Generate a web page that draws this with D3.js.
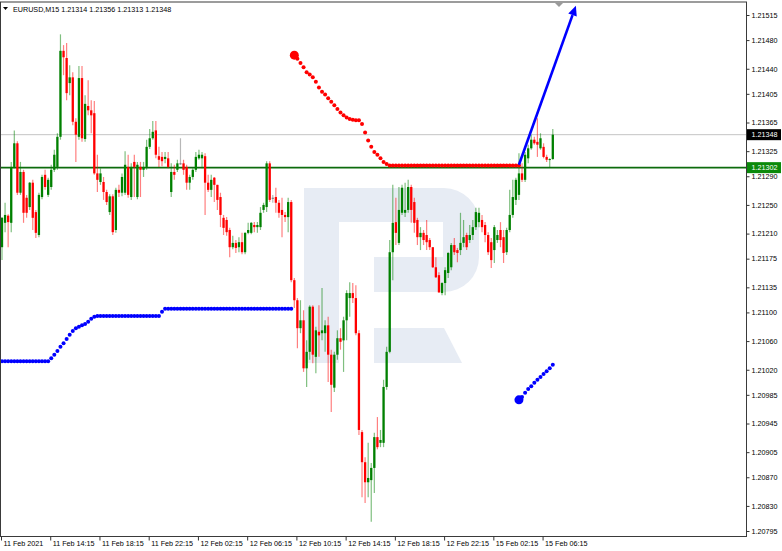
<!DOCTYPE html>
<html><head><meta charset="utf-8">
<script src="https://cdn.jsdelivr.net/npm/d3@7"></script>
<style>
body{margin:0;background:#fff}
svg{display:block}
text{font-family:"Liberation Sans",Arial,sans-serif}
</style>
</head><body><svg id="c" width="782" height="551"></svg>
<script>
// ---------- DATA ----------
const symbol = "EURUSD,M15";
const lastQuote = [1.21314, 1.21356, 1.21313, 1.21348]; // O H L C of last bar

const open = [
1.21191,1.21225,1.21235,1.21225,1.21303,1.21336,1.21267,1.21296,1.21260,1.21247,
1.21281,1.21240,1.21208,1.21261,1.21292,1.21264,1.21275,1.21299,1.21303,1.21345,
1.21465,1.21455,1.21420,1.21428,1.21366,1.21345,1.21427,1.21342,1.21388,1.21382,
1.21378,1.21294,1.21282,1.21282,1.21268,1.21240,1.21262,1.21215,1.21271,1.21267,
1.21267,1.21303,1.21261,1.21310,1.21261,1.21303,1.21299,1.21303,1.21331,1.21343,
1.21354,1.21318,1.21317,1.21314,1.21315,1.21268,1.21296,1.21299,1.21308,1.21308,
1.21303,1.21281,1.21289,1.21299,1.21315,1.21315,1.21318,1.21281,1.21271,1.21288,
1.21278,1.21261,1.21232,1.21229,1.21215,1.21191,1.21197,1.21191,1.21198,1.21184,
1.21211,1.21211,1.21222,1.21219,1.21219,1.21243,1.21247,1.21308,1.21260,1.21261,
1.21253,1.21243,1.21236,1.21233,1.21254,1.21145,1.21117,1.21078,1.21089,1.21022,
1.21045,1.21108,1.21038,1.21073,1.21071,1.21071,1.21082,1.21041,1.20995,1.21041,
1.21064,1.21061,1.21089,1.21120,1.21127,1.21120,1.21071,1.20933,1.20891,1.20863,
1.20866,1.20883,1.20926,1.20918,1.20918,1.20996,1.21045,1.21184,1.21226,1.21197,
1.21239,1.21239,1.21243,1.21275,1.21254,1.21229,1.21205,1.21211,1.21208,1.21201,
1.21191,1.21163,1.21152,1.21127,1.21141,1.21155,1.21163,1.21194,1.21187,1.21187,
1.21197,1.21208,1.21201,1.21208,1.21219,1.21226,1.21229,1.21222,1.21208,1.21198,
1.21187,1.21201,1.21215,1.21205,1.21184,1.21215,1.21236,1.21257,1.21264,1.21294,
1.21285,1.21315,1.21329,1.21341,1.21338,1.21329,1.21331,1.21317,1.21313,1.21314];

const high = [
1.21233,1.21253,1.21237,1.21310,1.21354,1.21339,1.21310,1.21299,1.21264,1.21282,
1.21285,1.21243,1.21267,1.21292,1.21299,1.21288,1.21306,1.21327,1.21350,1.21488,
1.21473,1.21476,1.21445,1.21435,1.21371,1.21444,1.21444,1.21403,1.21424,1.21396,
1.21395,1.21320,1.21301,1.21289,1.21271,1.21265,1.21265,1.21274,1.21278,1.21294,
1.21325,1.21320,1.21308,1.21320,1.21310,1.21310,1.21310,1.21341,1.21356,1.21367,
1.21367,1.21331,1.21324,1.21324,1.21324,1.21308,1.21306,1.21313,1.21343,1.21313,
1.21306,1.21292,1.21301,1.21324,1.21327,1.21324,1.21322,1.21292,1.21292,1.21289,
1.21278,1.21267,1.21236,1.21233,1.21218,1.21207,1.21201,1.21205,1.21211,1.21212,
1.21225,1.21226,1.21226,1.21226,1.21247,1.21253,1.21311,1.21311,1.21264,1.21274,
1.21257,1.21260,1.21240,1.21260,1.21257,1.21148,1.21120,1.21117,1.21103,1.21061,
1.21110,1.21110,1.21080,1.21110,1.21134,1.21089,1.21094,1.21048,1.21045,1.21075,
1.21078,1.21094,1.21131,1.21142,1.21141,1.21138,1.21075,1.20936,1.20898,1.20918,
1.20890,1.20932,1.20954,1.20936,1.21006,1.21052,1.21201,1.21278,1.21260,1.21275,
1.21278,1.21281,1.21285,1.21278,1.21260,1.21232,1.21219,1.21215,1.21229,1.21204,
1.21191,1.21177,1.21156,1.21142,1.21163,1.21184,1.21197,1.21204,1.21190,1.21239,
1.21229,1.21211,1.21222,1.21229,1.21246,1.21246,1.21236,1.21226,1.21212,1.21204,
1.21222,1.21215,1.21226,1.21215,1.21218,1.21271,1.21285,1.21288,1.21322,1.21308,
1.21324,1.21334,1.21348,1.21345,1.21371,1.21350,1.21336,1.21320,1.21315,1.21356];

const low = [
1.21173,1.21212,1.21191,1.21212,1.21301,1.21264,1.21264,1.21225,1.21232,1.21243,
1.21215,1.21204,1.21205,1.21258,1.21271,1.21261,1.21271,1.21296,1.21299,1.21341,
1.21431,1.21396,1.21403,1.21361,1.21310,1.21341,1.21338,1.21338,1.21375,1.21350,
1.21292,1.21268,1.21278,1.21257,1.21250,1.21236,1.21208,1.21211,1.21261,1.21262,
1.21264,1.21260,1.21257,1.21261,1.21258,1.21261,1.21289,1.21299,1.21328,1.21341,
1.21315,1.21303,1.21304,1.21308,1.21301,1.21261,1.21285,1.21296,1.21306,1.21292,
1.21271,1.21271,1.21285,1.21296,1.21313,1.21301,1.21236,1.21268,1.21261,1.21254,
1.21243,1.21219,1.21208,1.21207,1.21177,1.21188,1.21183,1.21184,1.21181,1.21181,
1.21209,1.21209,1.21212,1.21211,1.21215,1.21239,1.21240,1.21254,1.21253,1.21239,
1.21232,1.21205,1.21226,1.21212,1.21142,1.21106,1.21050,1.21071,1.21017,1.20996,
1.21034,1.21029,1.21015,1.21038,1.21061,1.21045,1.21003,1.20961,1.20989,1.21034,
1.21048,1.21017,1.21061,1.21094,1.21113,1.21068,1.20929,1.20842,1.20834,1.20842,
1.20808,1.20848,1.20909,1.20912,1.20912,1.20992,1.21043,1.21145,1.21194,1.21194,
1.21236,1.21233,1.21239,1.21225,1.21211,1.21194,1.21187,1.21194,1.21187,1.21187,
1.21162,1.21148,1.21127,1.21124,1.21124,1.21148,1.21159,1.21180,1.21170,1.21180,
1.21191,1.21187,1.21197,1.21201,1.21215,1.21219,1.21212,1.21198,1.21180,1.21162,
1.21169,1.21197,1.21191,1.21169,1.21180,1.21212,1.21232,1.21250,1.21257,1.21282,
1.21282,1.21308,1.21327,1.21334,1.21317,1.21327,1.21315,1.21310,1.21303,1.21313];

const close = [
1.21232,1.21236,1.21226,1.21303,1.21336,1.21267,1.21296,1.21239,1.21239,1.21281,
1.21232,1.21211,1.21264,1.21289,1.21275,1.21285,1.21299,1.21320,1.21345,1.21465,
1.21456,1.21406,1.21428,1.21366,1.21348,1.21427,1.21343,1.21391,1.21382,1.21375,
1.21294,1.21285,1.21294,1.21268,1.21254,1.21262,1.21212,1.21271,1.21267,1.21289,
1.21306,1.21264,1.21303,1.21303,1.21306,1.21299,1.21303,1.21331,1.21343,1.21352,
1.21320,1.21313,1.21311,1.21317,1.21303,1.21296,1.21292,1.21308,1.21308,1.21299,
1.21281,1.21289,1.21299,1.21317,1.21320,1.21320,1.21281,1.21271,1.21285,1.21278,
1.21257,1.21236,1.21218,1.21212,1.21191,1.21197,1.21190,1.21198,1.21184,1.21211,
1.21215,1.21225,1.21219,1.21222,1.21239,1.21250,1.21308,1.21257,1.21260,1.21253,
1.21239,1.21236,1.21233,1.21254,1.21145,1.21117,1.21078,1.21089,1.21022,1.21045,
1.21108,1.21041,1.21075,1.21068,1.21075,1.21082,1.21041,1.20999,1.21041,1.21064,
1.21059,1.21089,1.21127,1.21127,1.21120,1.21071,1.20936,1.20891,1.20863,1.20869,
1.20883,1.20926,1.20912,1.20922,1.20996,1.21045,1.21184,1.21225,1.21211,1.21243,
1.21274,1.21243,1.21275,1.21243,1.21225,1.21205,1.21211,1.21201,1.21198,1.21191,
1.21163,1.21149,1.21128,1.21141,1.21159,1.21183,1.21194,1.21184,1.21183,1.21197,
1.21205,1.21191,1.21208,1.21219,1.21240,1.21239,1.21219,1.21208,1.21184,1.21173,
1.21219,1.21208,1.21201,1.21183,1.21215,1.21236,1.21261,1.21285,1.21294,1.21285,
1.21320,1.21329,1.21341,1.21336,1.21334,1.21343,1.21317,1.21313,1.21314,1.21348];

const timeLabels = ["11 Feb 2021","11 Feb 14:15","11 Feb 18:15","11 Feb 22:15","12 Feb 02:15",
  "12 Feb 06:15","12 Feb 10:15","12 Feb 14:15","12 Feb 18:15","12 Feb 22:15","15 Feb 02:15","15 Feb 06:15"];
const timeLabelBars = [0,16,32,48,64,80,96,112,128,144,160,176];

const priceTicks = [1.21515,1.21480,1.21440,1.21405,1.21365,1.21325,1.21290,1.21250,1.21210,1.21175,
  1.21135,1.21100,1.21060,1.21020,1.20985,1.20945,1.20905,1.20870,1.20830,1.20795];

const bidPrice = 1.21348;
const levelPrice = 1.21302;

// red dotted indicator, starting at bar 95
const redDotsStart = 95;
const redDots = [
1.21459,1.21454,1.21448,1.21442,1.21435,1.21432,1.21428,1.21422,1.21414,1.21408,
1.21404,1.21399,1.21394,1.21389,1.21384,1.21379,1.21375,1.21372,1.21370,1.21369,
1.21368,1.21368,1.21363,1.21351,1.21340,1.21331,1.21324,1.21320,1.21315,1.21310,
1.21307,
1.21305,1.21305,1.21305,1.21305,1.21305,1.21305,1.21305,1.21305,1.21305,1.21305,
1.21305,1.21305,1.21305,1.21305,1.21305,1.21305,1.21305,1.21305,1.21305,1.21305,
1.21305,1.21305,1.21305,1.21305,1.21305,1.21305,1.21305,1.21305,1.21305,1.21305,
1.21305,1.21305,1.21305,1.21305,1.21305,1.21305,1.21305,1.21305,1.21305,1.21305,
1.21305,1.21305,1.21305];

// blue dotted indicator, first run starting at bar 0
const blueDotsAStart = 0;
const blueDotsA = [
1.21032,1.21032,1.21032,1.21032,1.21032,1.21032,1.21032,1.21032,1.21032,1.21032,
1.21032,1.21032,1.21032,1.21032,1.21032,1.21032,
1.21036,1.21041,1.21046,1.21052,1.21057,1.21063,1.21069,1.21074,1.21078,1.21080,
1.21082,1.21084,1.21087,1.21091,1.21094,
1.21095,1.21095,1.21095,1.21095,1.21095,1.21095,1.21095,1.21095,1.21095,1.21095,
1.21095,1.21095,1.21095,1.21095,1.21095,1.21095,1.21095,1.21095,1.21095,1.21095,
1.21095,
1.21101,
1.21105,1.21105,1.21105,1.21105,1.21105,1.21105,1.21105,1.21105,1.21105,1.21105,
1.21105,1.21105,1.21105,1.21105,1.21105,1.21105,1.21105,1.21105,1.21105,1.21105,
1.21105,1.21105,1.21105,1.21105,1.21105,1.21105,1.21105,1.21105,1.21105,1.21105,
1.21105,1.21105,1.21105,1.21105,1.21105,1.21105,1.21105,1.21105,1.21105,1.21105,
1.21105,1.21105];

// blue dotted indicator, second run starting at bar 168
const blueDotsBStart = 168;
const blueDotsB = [1.20978,1.20982,1.20988,1.20993,1.20997,1.21002,1.21006,1.21010,1.21014,1.21018,1.21022,1.21027];

// forecast arrow [bar, price]
const arrowFrom = [168, 1.21306];
const arrowTo = [186.5, 1.21528];

// ---------- CHART ----------
const svg = d3.select("#c");
const plot = {left: 0.5, top: 2, right: 746.5, bottom: 536.5};

const x = d3.scaleLinear().domain([0, 179]).range([2, 552.8]);
const y = d3.scaleLinear().domain([1.20795, 1.21515]).range([531, 15]);

svg.append("rect").attr("width", 782).attr("height", 551).attr("fill", "#fff");

// watermark logo
const wm = svg.append("g").attr("fill", "#e7ecf4");
wm.append("path").attr("d",
  "M304,188 H444 A35,35 0 0 1 479,223 V257 A35,35 0 0 1 444,292 H374 V257 H443 V222 H339 V363 H304 Z");
wm.append("path").attr("d", "M374,328 H444 L462,363 H374 Z");

// horizontal lines
svg.append("line").attr("x1", plot.left).attr("x2", plot.right)
  .attr("y1", y(bidPrice)).attr("y2", y(bidPrice))
  .attr("stroke", "#c4c4c4").attr("stroke-width", 1);
svg.append("line").attr("x1", plot.left).attr("x2", plot.right)
  .attr("y1", y(levelPrice)).attr("y2", y(levelPrice))
  .attr("stroke", "#0c6b0c").attr("stroke-width", 1.8);

// candles
const bars = d3.range(open.length).map(i => ({i, o: open[i], h: high[i], l: low[i], c: close[i]}));
const colorOf = d => d.c > d.o ? "#008000" : (d.c < d.o ? "#ff0000" : "#707070");
const cg = svg.append("g");
cg.selectAll("line.w").data(bars).join("line")
  .attr("x1", d => x(d.i)).attr("x2", d => x(d.i))
  .attr("y1", d => y(d.h)).attr("y2", d => y(d.l))
  .attr("stroke", colorOf).attr("stroke-width", 1.2).attr("stroke-opacity", 0.5);
cg.selectAll("rect.b").data(bars).join("rect")
  .attr("x", d => x(d.i) - 1.15).attr("width", 2.3)
  .attr("y", d => y(Math.max(d.o, d.c)))
  .attr("height", d => Math.max(1, Math.abs(y(d.o) - y(d.c))))
  .attr("fill", colorOf);

// red dots
const rd = redDots.map((v, k) => ({i: redDotsStart + k, v}));
svg.append("g").selectAll("circle").data(rd).join("circle")
  .attr("cx", d => x(d.i)).attr("cy", d => y(d.v))
  .attr("r", (d, k) => k === 0 ? 4.5 : 2).attr("fill", "#ff0000");

// blue dots
const bdA = blueDotsA.map((v, k) => ({i: blueDotsAStart + k, v}));
const bdB = blueDotsB.map((v, k) => ({i: blueDotsBStart + k, v, first: k === 0}));
svg.append("g").selectAll("circle").data(bdA.concat(bdB)).join("circle")
  .attr("cx", d => x(d.i)).attr("cy", d => y(d.v))
  .attr("r", d => d.first ? 4.5 : 2).attr("fill", "#0000ff");

// arrow
{
  const x1 = x(arrowFrom[0]), y1 = y(arrowFrom[1]), x2 = x(arrowTo[0]), y2 = y(arrowTo[1]);
  const ang = Math.atan2(y2 - y1, x2 - x1), hl = 10, hw = 4.5;
  const bx = x2 - hl * Math.cos(ang), by = y2 - hl * Math.sin(ang);
  svg.append("line").attr("x1", x1).attr("y1", y1).attr("x2", bx).attr("y2", by)
    .attr("stroke", "#0000ff").attr("stroke-width", 2.6);
  const px = -Math.sin(ang), py = Math.cos(ang);
  svg.append("path").attr("d",
    `M${x2},${y2} L${bx + px * hw},${by + py * hw} L${bx - px * hw},${by - py * hw} Z`)
    .attr("fill", "#0000ff");
}

// frame
svg.append("rect").attr("x", plot.left).attr("y", plot.top)
  .attr("width", plot.right - plot.left).attr("height", plot.bottom - plot.top)
  .attr("fill", "none").attr("stroke", "#3a3a3a").attr("stroke-width", 1);

// shift marker
svg.append("path").attr("d", "M555,3 L563,3 L559,7 Z").attr("fill", "#9a9a9a");

// price axis
const yAxis = d3.axisRight(y).tickValues(priceTicks).tickFormat(d3.format(".5f"))
  .tickSize(3).tickPadding(2);
const ya = svg.append("g").attr("transform", `translate(${plot.right},0)`).call(yAxis);
ya.select(".domain").remove();
ya.selectAll("line").attr("stroke", "#333");
ya.selectAll("text").attr("font-size", 7.2).attr("fill", "#000")
  .attr("font-family", "'Liberation Sans', Arial, sans-serif");

// price labels (bid, level)
function priceBox(p, bg) {
  const g = svg.append("g");
  g.append("rect").attr("x", plot.right + 0.5).attr("y", y(p) - 5.5)
    .attr("width", 34).attr("height", 11).attr("fill", bg);
  g.append("text").attr("x", plot.right + 5).attr("y", y(p)).attr("dy", "0.35em")
    .attr("font-size", 7.2).attr("fill", "#fff").text(d3.format(".5f")(p));
}
priceBox(bidPrice, "#000");
priceBox(levelPrice, "#0b8a0b");

// time axis
const xAxis = d3.axisBottom(x).tickValues(timeLabelBars)
  .tickFormat((d, k) => timeLabels[k]).tickSize(4);
const xa = svg.append("g").attr("transform", `translate(0,${plot.bottom})`).call(xAxis);
xa.select(".domain").remove();
xa.selectAll("line").attr("stroke", "#333").attr("transform", "translate(-1,0)");
xa.selectAll("text").attr("text-anchor", "start").attr("x", 1).attr("y", 6.5).attr("dy", "0.35em")
  .attr("font-size", 7.2).attr("fill", "#000")
  .attr("font-family", "'Liberation Sans', Arial, sans-serif");

// title
svg.append("path").attr("d", "M3,7 L8,7 L5.5,10 Z").attr("fill", "#000");
svg.append("text").attr("x", 13).attr("y", 9).attr("dy", "0.35em")
  .attr("font-size", 7.2).attr("fill", "#000")
  .text(symbol + "  " + lastQuote.map(d3.format(".5f")).join(" "));
</script>
</body></html>
